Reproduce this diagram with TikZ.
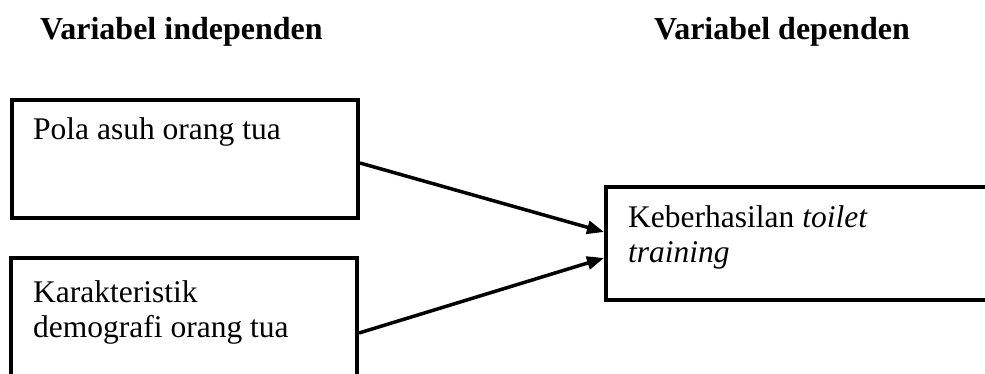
\documentclass[tikz,border=0pt]{standalone}
\usepackage{fontspec}
\setmainfont{Liberation Serif}
\usepackage{tikz}
\usetikzlibrary{arrows.meta,positioning,calc}
\tikzset{
    kotak/.style={draw, line width=4pt, inner sep=0pt, minimum width=346pt, minimum height=118pt},
    isi/.style={inner sep=0pt, align=left, font=\fontsize{31.5}{35}\selectfont},
    judul/.style={inner sep=0pt, font=\fontsize{32}{36}\selectfont\bfseries},
    panah/.style={line width=3.5pt, -{Triangle[length=17pt,width=13pt]}}}

\begin{document}
\begin{tikzpicture}[x=1pt,y=-1pt]
\useasboundingbox (0,0) rectangle (985,374);
\clip (0,0) rectangle (985,374);
\node[judul, anchor=base west] (jindep) at (40,40) {Variabel independen};
\node[judul, anchor=base east] (jdep) at (910,40) {Variabel dependen};

\node[kotak] (pola) at (185,159) {};
\node[kotak] (karak) at (184,317) {};
\node[kotak, minimum width=400pt, minimum height=113pt, anchor=west] (hasil) at (604,243.5) {};

% baseline of the last line for the two-line texts
\node[isi, anchor=base west] (tpola) at (33,140) {Pola asuh orang tua};
\node[isi, anchor=base west] (tkarak) at (33,337) {Karakteristik\\demografi orang tua};
\node[isi, anchor=base west] (thasil) at (628,262) {Keberhasilan \textit{toilet}\\\textit{training}};

\draw[panah] ([yshift=-4pt]pola.east) -- ([yshift=11.5pt]hasil.west);
\draw[panah] ([yshift=-16pt]karak.east) -- ([yshift=-14.5pt]hasil.west);
\end{tikzpicture}
\end{document}
